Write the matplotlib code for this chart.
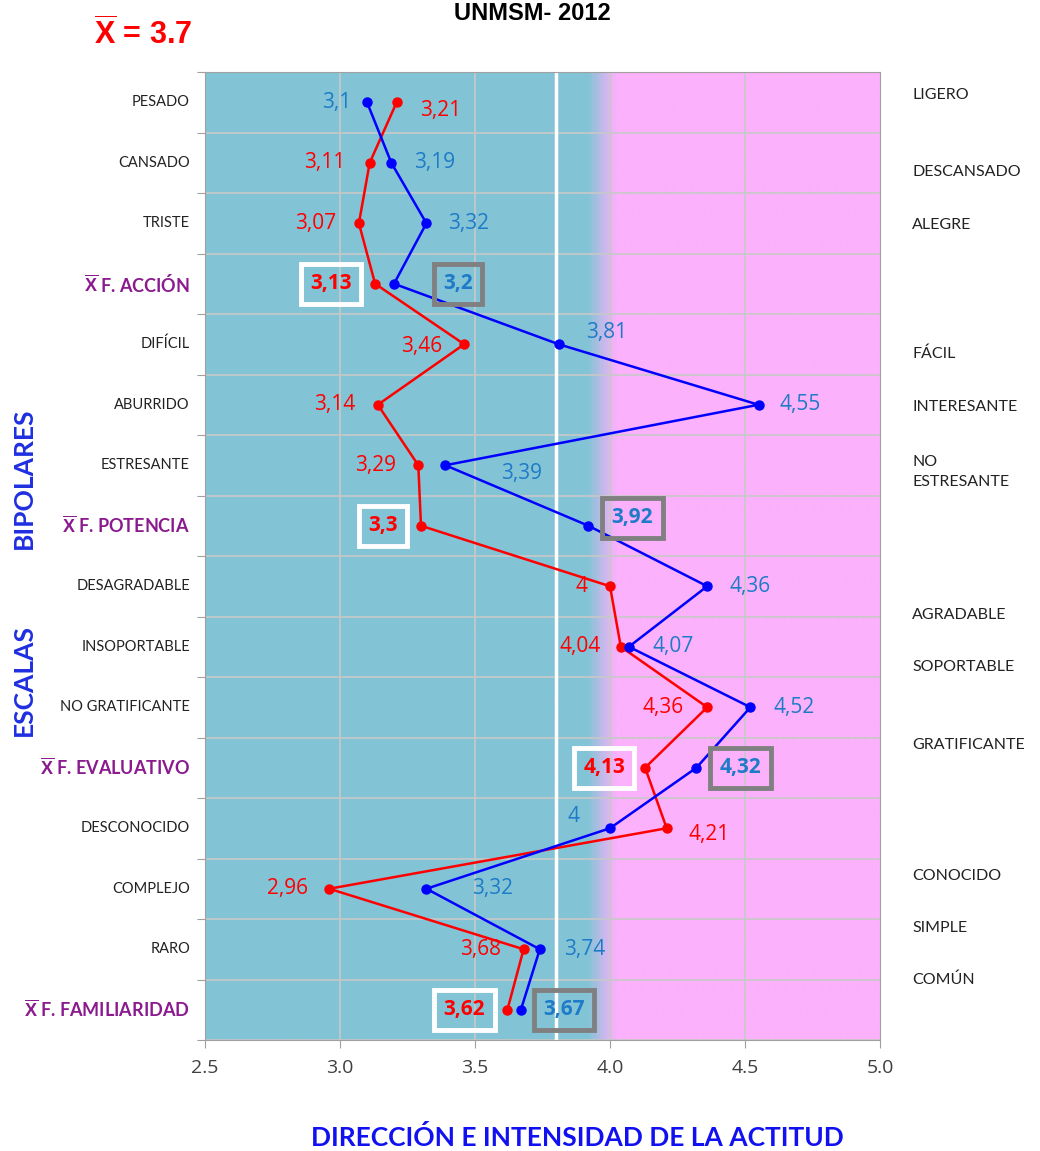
import matplotlib
matplotlib.use("Agg")
import matplotlib.pyplot as plt
import numpy as np
from matplotlib.colors import LinearSegmentedColormap

plt.rcParams["font.family"] = ["Lato", "DejaVu Sans"]
plt.rcParams["mathtext.fontset"] = "custom"
plt.rcParams["mathtext.rm"] = "Liberation Sans"
plt.rcParams["mathtext.bf"] = "Liberation Sans:bold"

# ---- data ----
left_labels = [
    "PESADO", "CANSADO", "TRISTE", "F. ACCIÓN",
    "DIFÍCIL", "ABURRIDO", "ESTRESANTE", "F. POTENCIA",
    "DESAGRADABLE", "INSOPORTABLE", "NO GRATIFICANTE", "F. EVALUATIVO",
    "DESCONOCIDO", "COMPLEJO", "RARO", "F. FAMILIARIDAD",
]
is_mean = [False, False, False, True,
           False, False, False, True,
           False, False, False, True,
           False, False, False, True]
right_labels = ["LIGERO", "DESCANSADO", "ALEGRE", "FÁCIL", "INTERESANTE",
                "NO\nESTRESANTE", "AGRADABLE", "SOPORTABLE", "GRATIFICANTE",
                "CONOCIDO", "SIMPLE", "COMÚN"]
red_values = [3.21, 3.11, 3.07, 3.13, 3.46, 3.14, 3.29, 3.3,
              4.00, 4.04, 4.36, 4.13, 4.21, 2.96, 3.68, 3.62]
blue_values = [3.10, 3.19, 3.32, 3.20, 3.81, 4.55, 3.39, 3.92,
               4.36, 4.07, 4.52, 4.32, 4.00, 3.32, 3.74, 3.67]
overall_mean = 3.7
xticks = [2.5, 3.0, 3.5, 4.0, 4.5, 5.0]

# label offsets in pixels (dx, dy) relative to the point
red_off = [(44, -8), (-45, 0), (-43, 0), (-44, 0), (-43, -2), (-43, 0), (-43, 0), (-38, 0),
           (-28, 0), (-41, 0), (-44, 0), (-41, 0), (42, -6), (-42, 0), (-43, 0), (-43, 0)]
blue_off = [(-30, 0), (43, 0), (42, 0), (64, 0), (48, 12), (42, 0), (76, -8), (44, 8),
            (43, 0), (44, 0), (44, 0), (44, 0), (-36, 12), (66, 0), (45, 0), (43, 0)]

W, H = 1040, 1151
fig = plt.figure(figsize=(W / 100, H / 100), dpi=100)
ax = fig.add_axes([205 / W, 1 - 1040 / H, 675 / W, 968 / H])

# background: teal -> pink
teal = "#82C4D6"
pink = "#FBB1FB"
cmap = LinearSegmentedColormap.from_list("bg", [(0, teal), (0.568, teal), (0.61, pink), (1, pink)])
grad = np.linspace(0, 1, 600).reshape(1, -1)
ax.imshow(grad, aspect="auto", cmap=cmap, extent=[2.5, 5.0, 15.5, -0.5], zorder=0)

n = len(left_labels)
y = np.arange(n)
ax.set_xlim(2.5, 5.0)
ax.set_ylim(n - 0.5, -0.5)

# grid
for b in np.arange(n + 1) - 0.5:
    ax.axhline(b, color="#C8C8C8", lw=1.2, zorder=1)
for xt in xticks[1:-1]:
    ax.axvline(xt, color="#C8C8C8", lw=1.2, zorder=1)
ax.axvline(3.8, color="white", lw=2.5, zorder=2)

ax.plot(red_values, y, color="#FF0000", lw=1.8, marker="o", ms=6.5, zorder=4)
ax.plot(blue_values, y, color="#0000FF", lw=1.8, marker="o", ms=6.5, zorder=5)

for i in range(n):
    for vals, offs, col, edge in ((red_values, red_off, "#FF0000", "white"),
                                  (blue_values, blue_off, "#1E7BC8", "#808080")):
        txt = f"{vals[i]:g}".replace(".", ",")
        kw = dict(fontsize=15, color=col, ha="center", va="center",
                  xytext=offs[i], textcoords="offset pixels", zorder=6,
                  family=["Open Sans", "DejaVu Sans"])
        if is_mean[i]:
            kw["fontweight"] = "bold"
            kw["bbox"] = dict(boxstyle="square,pad=0.45", fc="none", ec=edge, lw=3.5)
        ax.annotate(txt, (vals[i], y[i]), **kw)

# axes styling
ax.set_xticks(xticks)
ax.set_xticklabels([f"{v:.1f}" for v in xticks], fontsize=14, color="#404040",
                   family=["Open Sans", "DejaVu Sans"])
ax.tick_params(axis="x", length=6, color="#A0A0A0", pad=8)
ax.set_yticks(np.arange(n + 1) - 0.5)
ax.set_yticklabels([])
ax.tick_params(axis="y", length=6, color="#A0A0A0")
for s in ax.spines.values():
    s.set_color("#A0A0A0")

# left category labels
for i, lab in enumerate(left_labels):
    if is_mean[i]:
        ax.annotate(r"$\mathbf{\overline{X}}$ " + lab, (0, y[i]),
                    xycoords=("axes fraction", "data"), xytext=(-15, 0),
                    textcoords="offset pixels", ha="right", va="center",
                    fontsize=13, fontweight="bold", color="#8A1A8E")
    else:
        ax.annotate(lab, (0, y[i]), xycoords=("axes fraction", "data"),
                    xytext=(-15, 0), textcoords="offset pixels",
                    ha="right", va="center", fontsize=10.5, color="#222222")

# right labels (pixel positions of the reference)
right_y = [95, 172, 225, 354, 407, 472, 615, 667, 745, 876, 928, 980]
for lab, py in zip(right_labels, right_y):
    fig.text(912 / W, 1 - py / H, lab, ha="left", va="center", fontsize=11.5,
             color="#222222", linespacing=1.6)

fig.text(24 / W, 1 - 478 / H, "BIPOLARES", rotation=90, ha="center", va="center",
         fontsize=19, fontweight="bold", color="#1F2FE0")
fig.text(24 / W, 1 - 680 / H, "ESCALAS", rotation=90, ha="center", va="center",
         fontsize=19, fontweight="bold", color="#1F2FE0")

fig.text(532 / W, 1 - 14 / H, "UNMSM- 2012", ha="center", va="center",
         fontsize=17, fontweight="bold", family="Liberation Sans")
fig.text(94 / W, 1 - 35 / H, r"$\mathbf{\overline{X}}$" + f" = {overall_mean}", ha="left",
         va="center", fontsize=22, fontweight="bold", color="#FF0000",
         family="Liberation Sans")
fig.text(577 / W, 1 - 1137 / H, "DIRECCIÓN E INTENSIDAD DE LA ACTITUD", ha="center",
         va="center", fontsize=19, fontweight="bold", color="#1010F0")

fig.savefig("out.png", dpi=100)
